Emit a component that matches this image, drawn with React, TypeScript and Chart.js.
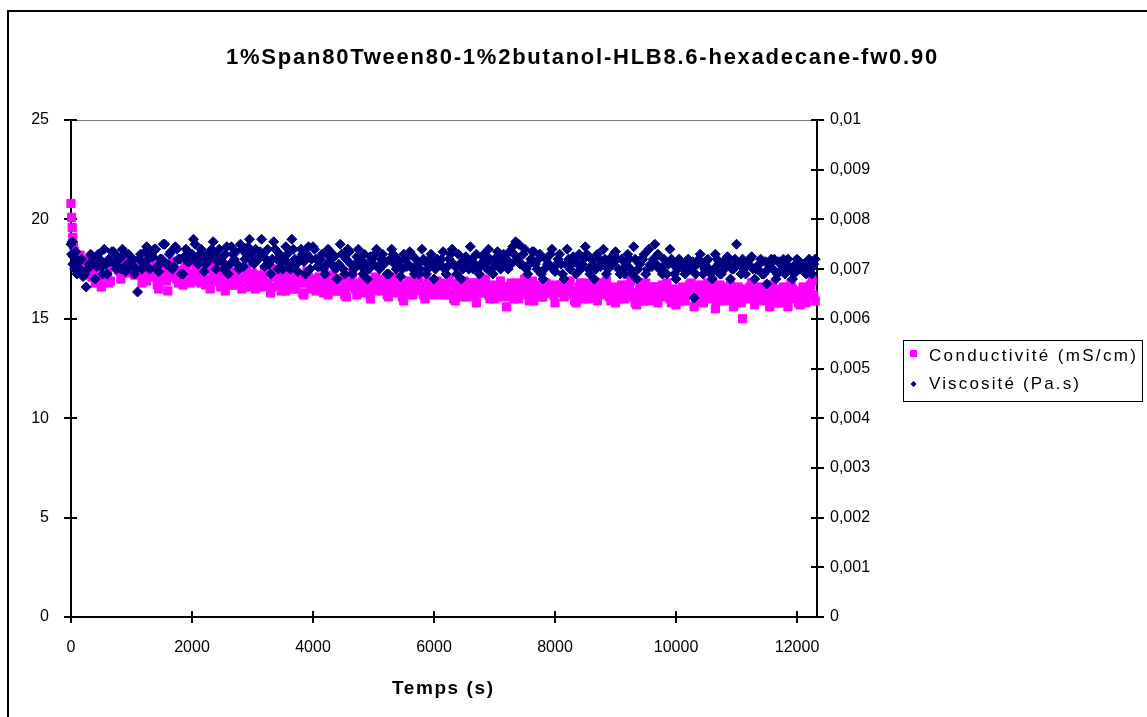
import React, { useEffect, useRef } from 'react';
import { Chart, registerables } from 'chart.js';

Chart.register(...registerables);

const TITLE = '1%Span80Tween80-1%2butanol-HLB8.6-hexadecane-fw0.90';
const X_TITLE = 'Temps (s)';
const SERIES_NAMES = ['Conductivité (mS/cm)', 'Viscosité (Pa.s)'];

const xTicks = [0, 2000, 4000, 6000, 8000, 10000, 12000];
const leftTicks = [0, 5, 10, 15, 20, 25];
const rightTicks = [0, 0.001, 0.002, 0.003, 0.004, 0.005, 0.006, 0.007, 0.008, 0.009, 0.01];

const times = [
  0, 10, 20, 30, 40, 60, 80,
  100, 125, 150, 175, 200, 225, 250, 275, 300, 325, 350, 375, 400, 425, 450, 475, 500, 525, 550, 575,
  600, 625, 650, 675, 700, 725, 750, 775, 800, 825, 850, 875, 900, 925, 950, 975, 1000, 1025, 1050, 1075,
  1100, 1125, 1150, 1175, 1200, 1225, 1250, 1275, 1300, 1325, 1350, 1375, 1400, 1425, 1450, 1475, 1500, 1525, 1550, 1575,
  1600, 1625, 1650, 1675, 1700, 1725, 1750, 1775, 1800, 1825, 1850, 1875, 1900, 1925, 1950, 1975, 2000, 2025, 2050, 2075,
  2100, 2125, 2150, 2175, 2200, 2225, 2250, 2275, 2300, 2325, 2350, 2375, 2400, 2425, 2450, 2475, 2500, 2525, 2550, 2575,
  2600, 2625, 2650, 2675, 2700, 2725, 2750, 2775, 2800, 2825, 2850, 2875, 2900, 2925, 2950, 2975, 3000, 3025, 3050, 3075,
  3100, 3125, 3150, 3175, 3200, 3225, 3250, 3275, 3300, 3325, 3350, 3375, 3400, 3425, 3450, 3475, 3500, 3525, 3550, 3575,
  3600, 3625, 3650, 3675, 3700, 3725, 3750, 3775, 3800, 3825, 3850, 3875, 3900, 3925, 3950, 3975, 4000, 4025, 4050, 4075,
  4100, 4125, 4150, 4175, 4200, 4225, 4250, 4275, 4300, 4325, 4350, 4375, 4400, 4425, 4450, 4475, 4500, 4525, 4550, 4575,
  4600, 4625, 4650, 4675, 4700, 4725, 4750, 4775, 4800, 4825, 4850, 4875, 4900, 4925, 4950, 4975, 5000, 5025, 5050, 5075,
  5100, 5125, 5150, 5175, 5200, 5225, 5250, 5275, 5300, 5325, 5350, 5375, 5400, 5425, 5450, 5475, 5500, 5525, 5550, 5575,
  5600, 5625, 5650, 5675, 5700, 5725, 5750, 5775, 5800, 5825, 5850, 5875, 5900, 5925, 5950, 5975, 6000, 6025, 6050, 6075,
  6100, 6125, 6150, 6175, 6200, 6225, 6250, 6275, 6300, 6325, 6350, 6375, 6400, 6425, 6450, 6475, 6500, 6525, 6550, 6575,
  6600, 6625, 6650, 6675, 6700, 6725, 6750, 6775, 6800, 6825, 6850, 6875, 6900, 6925, 6950, 6975, 7000, 7025, 7050, 7075,
  7100, 7125, 7150, 7175, 7200, 7225, 7250, 7275, 7300, 7325, 7350, 7375, 7400, 7425, 7450, 7475, 7500, 7525, 7550, 7575,
  7600, 7625, 7650, 7675, 7700, 7725, 7750, 7775, 7800, 7825, 7850, 7875, 7900, 7925, 7950, 7975, 8000, 8025, 8050, 8075,
  8100, 8125, 8150, 8175, 8200, 8225, 8250, 8275, 8300, 8325, 8350, 8375, 8400, 8425, 8450, 8475, 8500, 8525, 8550, 8575,
  8600, 8625, 8650, 8675, 8700, 8725, 8750, 8775, 8800, 8825, 8850, 8875, 8900, 8925, 8950, 8975, 9000, 9025, 9050, 9075,
  9100, 9125, 9150, 9175, 9200, 9225, 9250, 9275, 9300, 9325, 9350, 9375, 9400, 9425, 9450, 9475, 9500, 9525, 9550, 9575,
  9600, 9625, 9650, 9675, 9700, 9725, 9750, 9775, 9800, 9825, 9850, 9875, 9900, 9925, 9950, 9975, 10000, 10025, 10050, 10075,
  10100, 10125, 10150, 10175, 10200, 10225, 10250, 10275, 10300, 10325, 10350, 10375, 10400, 10425, 10450, 10475, 10500, 10525, 10550, 10575,
  10600, 10625, 10650, 10675, 10700, 10725, 10750, 10775, 10800, 10825, 10850, 10875, 10900, 10925, 10950, 10975, 11000, 11025, 11050, 11075,
  11100, 11125, 11150, 11175, 11200, 11225, 11250, 11275, 11300, 11325, 11350, 11375, 11400, 11425, 11450, 11475, 11500, 11525, 11550, 11575,
  11600, 11625, 11650, 11675, 11700, 11725, 11750, 11775, 11800, 11825, 11850, 11875, 11900, 11925, 11950, 11975, 12000, 12025, 12050, 12075,
  12100, 12125, 12150, 12175, 12200, 12225, 12250, 12275, 12300,
];

const conductivity = [
  20.8, 20.1, 19.6, 19.1, 18.7, 18.4, 18.1,
  17.9, 17.5, 18.2, 17.8, 17.6, 17.2, 17.3, 17.9, 18.0, 17.4, 17.1, 17.7, 16.8, 17.3, 17.5, 16.9, 16.6, 17.2, 17.8, 17.4,
  17.2, 16.8, 16.9, 17.6, 17.7, 18.0, 18.1, 17.5, 17.4, 17.0, 17.9, 17.6, 17.3, 17.8, 18.0, 17.4, 17.6, 17.9, 17.2, 17.5,
  17.8, 17.4, 17.2, 16.8, 17.6, 17.9, 16.9, 17.3, 17.4, 17.7, 18.0, 17.5, 17.1, 16.7, 16.5, 17.0, 17.7, 17.2, 17.3, 16.9,
  16.4, 17.1, 17.5, 17.6, 17.9, 17.3, 17.0, 16.8, 17.4, 17.1, 16.7, 17.5, 17.6, 17.0, 17.2, 16.8, 17.8, 17.3, 16.9, 17.4,
  17.4, 17.0, 16.8, 17.3, 17.6, 16.7, 17.0, 17.5, 16.5, 16.9, 17.3, 17.6, 17.7, 17.1, 16.9, 16.6, 17.2, 17.4, 16.4, 16.8,
  17.5, 17.2, 17.0, 16.7, 16.7, 17.3, 17.4, 17.0, 17.1, 16.5, 16.6, 17.2, 17.6, 17.1, 16.9, 16.6, 17.3, 17.0, 16.5, 16.8,
  17.2, 16.9, 16.6, 17.1, 17.4, 16.7, 16.8, 17.3, 16.3, 16.6, 17.1, 17.4, 17.5, 17.0, 16.7, 16.4, 17.0, 17.2, 16.4, 16.7,
  17.3, 17.0, 16.9, 16.5, 16.5, 16.9, 17.2, 17.0, 16.8, 16.3, 16.2, 16.9, 17.4, 17.1, 16.7, 16.5, 17.0, 16.8, 16.4, 16.6,
  17.1, 16.8, 16.5, 16.3, 16.9, 17.1, 16.2, 16.6, 17.2, 16.9, 16.7, 16.4, 16.4, 16.8, 17.0, 16.5, 16.6, 16.2, 16.1, 16.6,
  16.9, 17.0, 17.3, 16.7, 16.5, 16.2, 16.8, 16.4, 16.3, 16.9, 17.0, 16.6, 16.6, 16.3, 16.0, 16.5, 16.9, 17.1, 16.4, 16.7,
  17.0, 16.6, 16.4, 16.9, 16.8, 16.2, 16.1, 16.5, 16.6, 17.0, 17.1, 16.7, 16.3, 16.4, 16.7, 16.1, 15.9, 16.3, 16.5, 16.8,
  16.9, 16.4, 16.2, 16.6, 16.7, 17.0, 17.0, 16.5, 16.4, 16.2, 16.0, 16.6, 16.8, 16.9, 16.5, 16.3, 16.2, 16.7, 16.9, 16.4,
  16.8, 16.5, 16.2, 16.7, 16.6, 16.2, 17.0, 16.8, 16.3, 16.0, 15.9, 16.4, 16.7, 16.9, 16.4, 16.1, 16.9, 16.6, 16.1, 16.3,
  16.5, 16.8, 16.8, 16.2, 15.8, 16.3, 16.6, 16.9, 16.3, 16.5, 17.0, 16.6, 16.2, 16.0, 16.7, 16.4, 16.0, 16.6, 16.5, 16.1,
  16.9, 16.4, 16.2, 16.6, 15.6, 16.1, 16.6, 16.8, 16.3, 16.0, 16.8, 16.5, 16.0, 16.4, 16.5, 16.8, 17.0, 16.6, 16.2, 15.9,
  16.6, 16.9, 15.9, 16.3, 16.7, 16.4, 16.4, 16.1, 16.1, 16.6, 16.8, 16.3, 16.3, 16.7, 16.6, 16.2, 15.8, 16.4, 16.5, 16.7,
  16.7, 16.3, 16.1, 16.6, 16.5, 16.8, 16.9, 16.4, 16.2, 15.9, 15.8, 16.4, 16.6, 16.8, 16.3, 16.0, 16.8, 16.5, 16.0, 16.2,
  16.4, 16.7, 16.7, 16.1, 15.9, 16.3, 16.5, 16.8, 16.2, 16.6, 16.9, 16.5, 16.1, 15.9, 16.6, 16.3, 15.8, 16.5, 16.4, 16.0,
  16.7, 16.2, 16.0, 16.5, 16.4, 16.7, 16.9, 16.3, 16.1, 15.8, 15.7, 16.3, 16.5, 16.8, 16.2, 15.9, 16.8, 16.4, 15.9, 16.1,
  16.3, 16.6, 16.6, 16.0, 15.8, 16.2, 16.4, 16.7, 16.1, 16.5, 16.8, 16.4, 16.0, 15.8, 16.5, 16.2, 15.7, 16.4, 16.3, 15.9,
  16.6, 16.1, 15.9, 16.4, 16.3, 16.7, 16.8, 16.2, 15.6, 15.9, 16.2, 16.6, 16.7, 16.1, 15.8, 16.3, 16.4, 16.8, 16.0, 16.4,
  16.9, 16.5, 15.5, 15.9, 16.3, 16.7, 16.6, 16.1, 15.9, 16.2, 16.2, 16.5, 16.7, 16.0, 15.6, 16.3, 16.4, 16.6, 16.1, 15.8,
  15.0, 16.3, 16.5, 16.0, 16.2, 16.6, 16.8, 16.1, 15.7, 16.0, 16.3, 16.5, 16.6, 16.2, 15.9, 16.4, 16.4, 16.7, 15.6, 16.0,
  16.7, 16.4, 16.1, 15.8, 15.8, 16.3, 16.5, 16.6, 16.2, 15.9, 15.6, 16.1, 16.8, 16.5, 16.0, 16.3, 16.4, 15.8, 15.7, 16.2,
  16.6, 16.1, 15.8, 16.4, 16.3, 16.7, 16.9, 16.2, 15.9,
];

const viscosity = [
  0.0075, 0.0073, 0.00755, 0.0071, 0.00725, 0.007, 0.00735,
  0.0069, 0.00715, 0.007, 0.0072, 0.00685, 0.0069, 0.00664, 0.007, 0.0071, 0.0073, 0.00725, 0.0071, 0.0068, 0.00705, 0.0073, 0.0072, 0.00705, 0.0069, 0.0074, 0.0071,
  0.0069, 0.0072, 0.00715, 0.00735, 0.00735, 0.0071, 0.007, 0.00725, 0.0072, 0.007, 0.0074, 0.0073, 0.00695, 0.0071, 0.0073, 0.00705, 0.0071, 0.0072, 0.0069, 0.007,
  0.00654, 0.0072, 0.0073, 0.007, 0.0071, 0.00735, 0.00745, 0.0072, 0.007, 0.0073, 0.00725, 0.0074, 0.0074, 0.00705, 0.00695, 0.0072, 0.0072, 0.0075, 0.0075, 0.0071,
  0.0071, 0.0073, 0.00735, 0.007, 0.00705, 0.00745, 0.0074, 0.0072, 0.0072, 0.0069, 0.0069, 0.00725, 0.0074, 0.00715, 0.00715, 0.0073, 0.0073, 0.0076, 0.0075, 0.0072,
  0.0071, 0.0073, 0.0074, 0.0072, 0.00695, 0.0071, 0.0073, 0.00725, 0.0072, 0.0074, 0.00755, 0.0073, 0.007, 0.00715, 0.0074, 0.0072, 0.00715, 0.007, 0.0073, 0.00745,
  0.0069, 0.0071, 0.00745, 0.0073, 0.0072, 0.00735, 0.0071, 0.007, 0.0075, 0.0074, 0.00705, 0.0072, 0.0073, 0.00745, 0.0076, 0.0073, 0.00715, 0.0071, 0.0074, 0.0072,
  0.0072, 0.00735, 0.0076, 0.0073, 0.00705, 0.0072, 0.0074, 0.0071, 0.0069, 0.0072, 0.00755, 0.0074, 0.0072, 0.007, 0.0073, 0.00715, 0.007, 0.0072, 0.00745, 0.0073,
  0.0071, 0.007, 0.0076, 0.0074, 0.0072, 0.0071, 0.00695, 0.0072, 0.0074, 0.0073, 0.00715, 0.0069, 0.0073, 0.00745, 0.007, 0.0072, 0.00745, 0.0074, 0.0072, 0.00705,
  0.00705, 0.0072, 0.0073, 0.007, 0.0069, 0.0071, 0.0074, 0.00725, 0.0071, 0.0073, 0.00725, 0.007, 0.0068, 0.0071, 0.0075, 0.0073, 0.007, 0.0069, 0.0072, 0.0074,
  0.00735, 0.0071, 0.0069, 0.007, 0.0071, 0.00725, 0.0074, 0.0072, 0.00705, 0.0069, 0.0073, 0.0071, 0.0068, 0.007, 0.00725, 0.0072, 0.0071, 0.0073, 0.0074, 0.00705,
  0.007, 0.0072, 0.0073, 0.0071, 0.00715, 0.0069, 0.0069, 0.0072, 0.0074, 0.0073, 0.0071, 0.007, 0.0072, 0.00715, 0.00685, 0.007, 0.0073, 0.0072, 0.00705, 0.0071,
  0.00735, 0.0073, 0.007, 0.0069, 0.0072, 0.0071, 0.0069, 0.007, 0.0074, 0.0072, 0.00715, 0.0069, 0.007, 0.0072, 0.0073, 0.0071, 0.0068, 0.007, 0.0072, 0.0071,
  0.0071, 0.0072, 0.00735, 0.007, 0.0069, 0.00705, 0.0072, 0.0073, 0.0074, 0.0071, 0.00705, 0.0069, 0.0073, 0.0071, 0.0068, 0.007, 0.0072, 0.00725, 0.0071, 0.007,
  0.00745, 0.0072, 0.007, 0.0071, 0.0073, 0.007, 0.0069, 0.0071, 0.00725, 0.0073, 0.0071, 0.007, 0.0074, 0.0072, 0.007, 0.0069, 0.0072, 0.0071, 0.00735, 0.0072,
  0.007, 0.0072, 0.0073, 0.0071, 0.0072, 0.007, 0.00735, 0.0071, 0.00745, 0.0073, 0.00755, 0.0072, 0.0075, 0.0071, 0.0071, 0.0073, 0.0074, 0.007, 0.0069, 0.0071,
  0.0072, 0.00735, 0.00735, 0.0071, 0.007, 0.0072, 0.0073, 0.0069, 0.0068, 0.007, 0.0072, 0.0071, 0.0071, 0.0073, 0.0074, 0.007, 0.00695, 0.0071, 0.0072, 0.0073,
  0.0071, 0.0069, 0.0068, 0.0071, 0.0074, 0.0072, 0.007, 0.0071, 0.00725, 0.0072, 0.0069, 0.0071, 0.0073, 0.007, 0.0071, 0.0072, 0.00745, 0.0073, 0.007, 0.0069,
  0.0072, 0.0071, 0.0068, 0.007, 0.0073, 0.0072, 0.00705, 0.0071, 0.0074, 0.0072, 0.0069, 0.007, 0.0072, 0.0071, 0.0071, 0.0073, 0.00735, 0.0072, 0.007, 0.0069,
  0.0072, 0.007, 0.0069, 0.0071, 0.0073, 0.0072, 0.007, 0.0069, 0.00745, 0.0072, 0.0068, 0.007, 0.0071, 0.0072, 0.0072, 0.0073, 0.0069, 0.007, 0.0074, 0.0071,
  0.00705, 0.0072, 0.0075, 0.0071, 0.0073, 0.007, 0.007, 0.0069, 0.0072, 0.0071, 0.0069, 0.0071, 0.0074, 0.0072, 0.0071, 0.0069, 0.0068, 0.007, 0.0072, 0.0071,
  0.0071, 0.007, 0.0069, 0.007, 0.0072, 0.0071, 0.007, 0.00715, 0.00642, 0.0069, 0.0071, 0.0072, 0.0073, 0.0071, 0.0069, 0.007, 0.00715, 0.0072, 0.007, 0.0069,
  0.0068, 0.007, 0.0073, 0.0072, 0.0071, 0.0069, 0.0069, 0.0071, 0.007, 0.0072, 0.00725, 0.0071, 0.0068, 0.007, 0.007, 0.0072, 0.0075, 0.0071, 0.0071, 0.0069,
  0.0072, 0.007, 0.0069, 0.0071, 0.0071, 0.0072, 0.00725, 0.007, 0.0068, 0.007, 0.007, 0.0071, 0.0072, 0.0069, 0.0069, 0.00715, 0.0067, 0.007, 0.0071, 0.0072,
  0.007, 0.0072, 0.0068, 0.0069, 0.00715, 0.0071, 0.007, 0.0072, 0.0069, 0.0071, 0.0072, 0.007, 0.007, 0.0068, 0.0069, 0.0071, 0.0072, 0.00705, 0.007, 0.0071,
  0.0071, 0.007, 0.0069, 0.00715, 0.0072, 0.007, 0.0069, 0.0071, 0.0072,
];

const X_MAX = 12330;
const MAGENTA = '#FF00FF';
const NAVY = '#000080';
const FONT = '"Liberation Sans", Arial, sans-serif';

function drawFitted(ctx: CanvasRenderingContext2D, text: string, left: number, y: number, width: number) {
  (ctx as any).letterSpacing = '0px';
  const w = ctx.measureText(text).width;
  const n = Array.from(text).length;
  const sp = n > 1 ? (width - w) / (n - 1) : 0;
  (ctx as any).letterSpacing = sp.toFixed(2) + 'px';
  ctx.textAlign = 'left';
  ctx.fillText(text, left, y);
  (ctx as any).letterSpacing = '0px';
}

const decorPlugin = {
  id: 'decor',
  beforeDraw(chart: any) {
    const ctx = chart.ctx;
    ctx.save();
    ctx.fillStyle = '#ffffff';
    ctx.fillRect(0, 0, chart.width, chart.height);
    ctx.restore();
  },
  beforeDatasetsDraw(chart: any) {
    const ctx = chart.ctx as CanvasRenderingContext2D;
    const { left, right, top, bottom } = chart.chartArea;
    ctx.save();
    ctx.strokeStyle = '#808080';
    ctx.lineWidth = 1;
    ctx.beginPath();
    ctx.moveTo(left, top + 0.5);
    ctx.lineTo(right, top + 0.5);
    ctx.stroke();
    ctx.strokeStyle = '#000';
    ctx.lineWidth = 2;
    ctx.beginPath();
    ctx.moveTo(left, top);
    ctx.lineTo(left, bottom);
    ctx.moveTo(right, top);
    ctx.lineTo(right, bottom);
    ctx.moveTo(left - 6, bottom);
    ctx.lineTo(right + 6, bottom);
    ctx.stroke();
    const sx = chart.scales.x;
    const sy = chart.scales.y;
    const sy1 = chart.scales.y1;
    ctx.beginPath();
    xTicks.forEach((v) => {
      const px = Math.round(sx.getPixelForValue(v));
      ctx.moveTo(px, bottom - 6);
      ctx.lineTo(px, bottom + 6);
    });
    leftTicks.forEach((v) => {
      const py = Math.round(sy.getPixelForValue(v));
      ctx.moveTo(left - 7, py);
      ctx.lineTo(left + 6, py);
    });
    rightTicks.forEach((v) => {
      const py = Math.round(sy1.getPixelForValue(v));
      ctx.moveTo(right - 6, py);
      ctx.lineTo(right + 7, py);
    });
    ctx.stroke();
    ctx.restore();
  },
  afterDraw(chart: any) {
    const ctx = chart.ctx as CanvasRenderingContext2D;
    ctx.save();
    ctx.strokeStyle = '#000';
    ctx.lineWidth = 2;
    ctx.beginPath();
    ctx.moveTo(8, chart.height + 5);
    ctx.lineTo(8, 11);
    ctx.lineTo(chart.width + 5, 11);
    ctx.stroke();

    ctx.fillStyle = '#000';
    ctx.textBaseline = 'middle';
    ctx.font = 'bold 22px "Liberation Sans Narrow", "Liberation Sans", Arial, sans-serif';
    drawFitted(ctx, TITLE, 226, 58, 711);

    ctx.font = 'bold 19px "Liberation Sans Narrow", "Liberation Sans", Arial, sans-serif';
    drawFitted(ctx, X_TITLE, 392, 689, 101);

    ctx.strokeStyle = '#000';
    ctx.lineWidth = 1;
    ctx.strokeRect(903.5, 340.5, 239, 61);
    ctx.fillStyle = MAGENTA;
    ctx.fillRect(910, 350, 7, 7);
    ctx.fillStyle = NAVY;
    ctx.beginPath();
    ctx.moveTo(913.5, 381);
    ctx.lineTo(916.5, 384);
    ctx.lineTo(913.5, 387);
    ctx.lineTo(910.5, 384);
    ctx.closePath();
    ctx.fill();
    ctx.fillStyle = '#000';
    ctx.font = '17px ' + FONT;
    drawFitted(ctx, SERIES_NAMES[0], 929, 356, 207);
    drawFitted(ctx, SERIES_NAMES[1], 929, 384, 150);
    ctx.restore();
  },
};

export default function App() {
  const ref = useRef<HTMLCanvasElement | null>(null);

  useEffect(() => {
    document.body.style.margin = '0';
    const canvas = ref.current;
    if (!canvas) return;
    const n = Math.min(times.length, conductivity.length, viscosity.length);
    const condData = times.slice(0, n).map((t, i) => ({ x: t, y: conductivity[i] }));
    const viscData = times.slice(0, n).map((t, i) => ({ x: t, y: viscosity[i] }));

    const tickFont = { family: FONT, size: 16 };

    const chart = new Chart(canvas, {
      type: 'scatter',
      data: {
        datasets: [
          {
            label: SERIES_NAMES[0],
            data: condData,
            yAxisID: 'y',
            pointStyle: 'rect',
            pointRadius: 5.8,
            pointBackgroundColor: MAGENTA,
            pointBorderColor: MAGENTA,
            pointBorderWidth: 1,
            showLine: false,
            order: 1,
            clip: false as any,
          },
          {
            label: SERIES_NAMES[1],
            data: viscData,
            yAxisID: 'y1',
            pointStyle: 'rectRot',
            pointRadius: 5,
            pointBackgroundColor: NAVY,
            pointBorderColor: NAVY,
            pointBorderWidth: 1,
            showLine: false,
            order: 0,
            clip: false as any,
          },
        ],
      },
      options: {
        responsive: false,
        animation: false,
        devicePixelRatio: 1,
        layout: { padding: { left: 0, right: 0, top: 120, bottom: 0 } },
        plugins: {
          legend: { display: false },
          tooltip: { enabled: false },
          title: { display: false },
        },
        scales: {
          x: {
            type: 'linear',
            position: 'bottom',
            min: 0,
            max: X_MAX,
            grid: { display: false, drawTicks: false },
            border: { display: false },
            afterBuildTicks: (s: any) => {
              s.ticks = xTicks.map((v) => ({ value: v }));
            },
            afterFit: (s: any) => {
              s.height = 100;
            },
            ticks: {
              color: '#000',
              font: tickFont,
              padding: 21,
              autoSkip: false,
              maxRotation: 0,
              callback: (v: any) => String(v),
            },
          },
          y: {
            type: 'linear',
            position: 'left',
            min: 0,
            max: 25,
            grid: { display: false, drawTicks: false },
            border: { display: false },
            afterBuildTicks: (s: any) => {
              s.ticks = leftTicks.map((v) => ({ value: v }));
            },
            afterFit: (s: any) => {
              s.width = 71;
            },
            ticks: {
              color: '#000',
              font: tickFont,
              padding: 22,
              callback: (v: any) => String(v),
            },
          },
          y1: {
            type: 'linear',
            position: 'right',
            min: 0,
            max: 0.01,
            grid: { display: false, drawTicks: false },
            border: { display: false },
            afterBuildTicks: (s: any) => {
              s.ticks = rightTicks.map((v) => ({ value: v }));
            },
            afterFit: (s: any) => {
              s.width = 330;
            },
            ticks: {
              color: '#000',
              font: tickFont,
              padding: 13,
              callback: (v: any) => String(Math.round(Number(v) * 1000) / 1000).replace('.', ','),
            },
          },
        },
      },
      plugins: [decorPlugin],
    });

    return () => {
      chart.destroy();
    };
  }, []);

  return (
    <div style={{ position: 'relative', width: 1147, height: 717, overflow: 'hidden' }}>
      <canvas ref={ref} width={1147} height={717} style={{ display: 'block', width: 1147, height: 717 }} />
    </div>
  );
}
